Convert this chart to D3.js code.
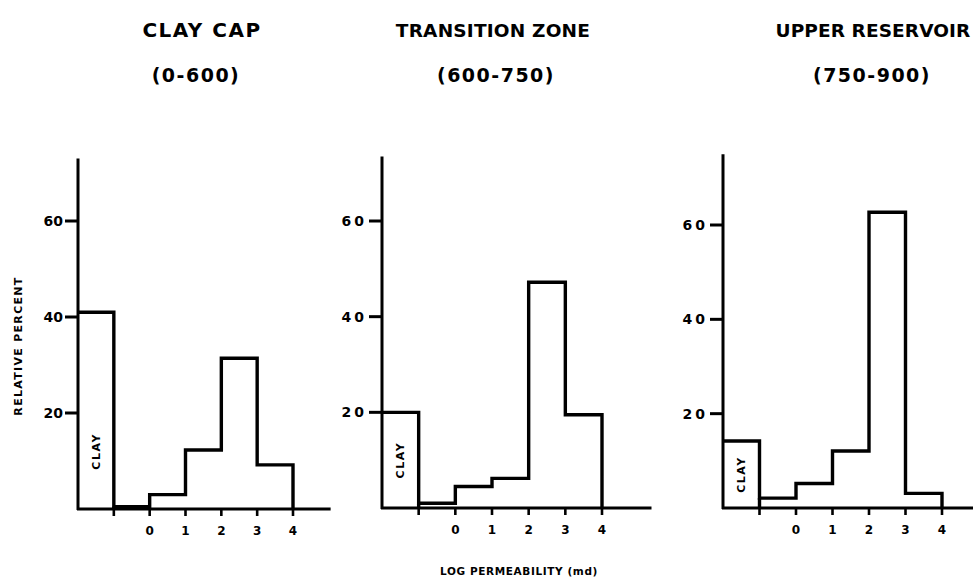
<!DOCTYPE html>
<html>
<head>
<meta charset="utf-8">
<script src="https://cdn.jsdelivr.net/npm/d3@7"></script>
<style>
  html, body { margin: 0; padding: 0; background: #fff; }
  svg { display: block; }
  text { font-family: "DejaVu Sans", Lato, sans-serif; font-weight: bold; fill: #000; }
</style>
</head>
<body>
<svg id="chart" width="973" height="584"></svg>
<script>
// Histogram bins: clay fraction first, then log-permeability classes
const binStarts = [-2, -1, 0, 1, 2, 3];
const binLabels = ["CLAY", "", "", "", "", ""];
const xTickValues = [-1, 0, 1, 2, 3, 4];
const xTickLabels = ["", "0", "1", "2", "3", "4"];
const yTickValues = [20, 40, 60];

const zoneTitles = ["CLAY CAP", "TRANSITION ZONE", "UPPER RESERVOIR"];
const zoneDepths = ["(0-600)", "(600-750)", "(750-900)"];

// Relative percent per bin for each zone
const clayCap        = [41, 0.5, 3, 12.3, 31.4, 9.2];
const transitionZone = [20, 1.0, 4.5, 6.2, 47.2, 19.5];
const upperReservoir = [14.2, 2.1, 5.2, 12.1, 62.7, 3.1];
const zoneValues = [clayCap, transitionZone, upperReservoir];

const svg = d3.select("#chart");

// Panel geometry (pixel ranges for each small multiple)
const panels = [
  { xr: [78, 293],  xEnd: 5.05, yr: [509, 221], yTop: 73,   titleX: 202, titleSize: 20,   titleSpacing: 1.5, depthX: 196, yLabelSpacing: 0 },
  { xr: [382, 602], xEnd: 5.35, yr: [508, 221], yTop: 73.5, titleX: 493, titleSize: 18.5, titleSpacing: 0.2, depthX: 496, yLabelSpacing: 3 },
  { xr: [723, 942], xEnd: 6.0,  yr: [508, 225], yTop: 75,   titleX: 873, titleSize: 18.5, titleSpacing: 0.1, depthX: 872, yLabelSpacing: 3 }
];

panels.forEach((p, i) => {
  const x = d3.scaleLinear().domain([-2, 4]).range(p.xr);
  const y = d3.scaleLinear().domain([0, 60]).range(p.yr);
  const vals = zoneValues[i];
  const g = svg.append("g");

  // Titles
  g.append("text")
    .attr("x", p.titleX).attr("y", 37)
    .attr("text-anchor", "middle")
    .attr("font-size", p.titleSize).attr("letter-spacing", p.titleSpacing)
    .text(zoneTitles[i]);
  g.append("text")
    .attr("x", p.depthX).attr("y", 82)
    .attr("text-anchor", "middle")
    .attr("font-size", 19).attr("letter-spacing", 1.5)
    .text(zoneDepths[i]);

  // Axes
  g.append("line")
    .attr("x1", x(-2)).attr("x2", x(-2))
    .attr("y1", y(p.yTop)).attr("y2", y(0) + 1)
    .attr("stroke", "#000").attr("stroke-width", 3);
  g.append("line")
    .attr("x1", x(-2) - 1).attr("x2", x(p.xEnd))
    .attr("y1", y(0)).attr("y2", y(0))
    .attr("stroke", "#000").attr("stroke-width", 3);

  // Y ticks
  yTickValues.forEach(v => {
    g.append("line")
      .attr("x1", x(-2) - 13).attr("x2", x(-2))
      .attr("y1", y(v)).attr("y2", y(v))
      .attr("stroke", "#000").attr("stroke-width", 3);
    g.append("text")
      .attr("x", x(-2) - 15).attr("y", y(v))
      .attr("dy", "0.36em")
      .attr("text-anchor", "end")
      .attr("font-size", 14).attr("letter-spacing", p.yLabelSpacing)
      .text(v);
  });

  // X ticks
  xTickValues.forEach((v, k) => {
    g.append("line")
      .attr("x1", x(v)).attr("x2", x(v))
      .attr("y1", y(0)).attr("y2", y(0) + 7)
      .attr("stroke", "#000").attr("stroke-width", 2.6);
    g.append("text")
      .attr("x", x(v)).attr("y", y(0) + 22)
      .attr("dy", "0.36em")
      .attr("text-anchor", "middle")
      .attr("font-size", 12)
      .text(xTickLabels[k]);
  });

  // Histogram outline as a step path
  const pts = [[x(-2), y(vals[0])]];
  binStarts.forEach((b, k) => {
    pts.push([x(b), y(vals[k])]);
    pts.push([x(b + 1), y(vals[k])]);
  });
  pts.push([x(4), y(0)]);
  g.append("path")
    .attr("d", d3.line()(pts))
    .attr("fill", "none").attr("stroke", "#000")
    .attr("stroke-width", 3.4).attr("stroke-linejoin", "miter");

  // Right edge of the clay bar down to the baseline
  g.append("line")
    .attr("x1", x(-1)).attr("x2", x(-1))
    .attr("y1", y(vals[1])).attr("y2", y(0))
    .attr("stroke", "#000").attr("stroke-width", 3.4);

  // Vertical CLAY label inside the clay bar
  const cx = (x(-2) + x(-1)) / 2;
  const cy = y(Math.min(vals[0] / 2, 12));
  g.append("text")
    .attr("transform", `translate(${cx},${cy}) rotate(-90)`)
    .attr("text-anchor", "middle").attr("dy", "0.36em")
    .attr("font-size", 11).attr("letter-spacing", 1.5)
    .text(binLabels[0]);
});

// Shared axis titles
svg.append("text")
  .attr("transform", "translate(18,346) rotate(-90)")
  .attr("text-anchor", "middle").attr("dy", "0.36em")
  .attr("font-size", 11).attr("letter-spacing", 1.3)
  .text("RELATIVE PERCENT");

svg.append("text")
  .attr("x", 519).attr("y", 571)
  .attr("text-anchor", "middle").attr("dy", "0.36em")
  .attr("font-size", 10.5).attr("letter-spacing", 0.6)
  .text("LOG PERMEABILITY (md)");
</script>
</body>
</html>
